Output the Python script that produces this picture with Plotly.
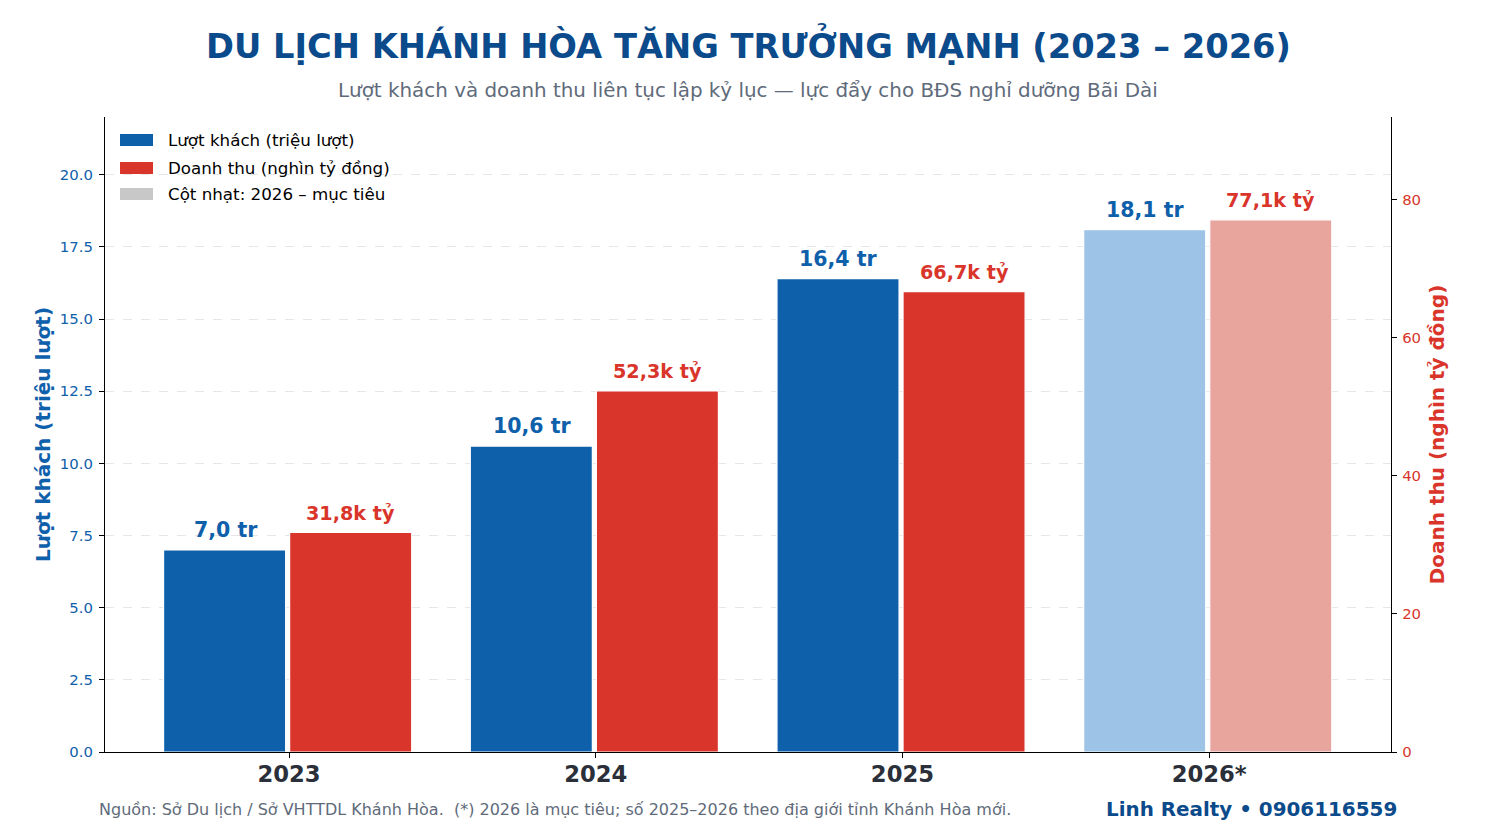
import plotly.graph_objects as go

# ---- data ----
years = ["2023", "2024", "2025", "2026*"]
visitors = [7.0, 10.6, 16.4, 18.1]          # triệu lượt
revenue = [31.8, 52.3, 66.7, 77.1]          # nghìn tỷ đồng
visitor_labels = ["7,0 tr", "10,6 tr", "16,4 tr", "18,1 tr"]
revenue_labels = ["31,8k tỷ", "52,3k tỷ", "66,7k tỷ", "77,1k tỷ"]
left_ticks = [0, 2.5, 5, 7.5, 10, 12.5, 15, 17.5, 20]
right_ticks = [0, 20, 40, 60, 80]
legend_names = ["Lượt khách (triệu lượt)", "Doanh thu (nghìn tỷ đồng)", "Cột nhạt: 2026 – mục tiêu"]

BLUE = "#0F60AB"
RED = "#D9352B"
BLUE_L = "#9DC3E6"
RED_L = "#E8A59E"
GRAY = "#C8C8C8"
TITLE_C = "#0B4A8B"
SUB_C = "#5F6B7A"
FONT = "DejaVu Sans"

W, H = 1496, 836
ML, MR, MT, MB = 105, 105, 117, 84
PW, PH = W - ML - MR, H - MT - MB

def px(x):
    return (x - ML) / PW

def py(y):
    return (H - MB - y) / PH

xs = list(range(len(years)))
blue_cols = [BLUE if not y.endswith("*") else BLUE_L for y in years]
red_cols = [RED if not y.endswith("*") else RED_L for y in years]

fig = go.Figure()
fig.add_trace(go.Bar(x=xs, y=visitors, width=0.398, offset=-0.409,
                     marker=dict(color=blue_cols, line=dict(color="white", width=1.2)),
                     yaxis="y", showlegend=False, hoverinfo="skip"))
fig.add_trace(go.Bar(x=xs, y=revenue, width=0.398, offset=0.002,
                     marker=dict(color=red_cols, line=dict(color="white", width=1.2)),
                     yaxis="y2", showlegend=False, hoverinfo="skip"))

annotations = []
for i, x in enumerate(xs):
    annotations.append(dict(x=x - 0.207, y=visitors[i], xref="x", yref="y", text=f"<b>{visitor_labels[i]}</b>",
                            showarrow=False, yanchor="bottom", yshift=6,
                            font=dict(family=FONT, size=20.5, color=BLUE)))
    annotations.append(dict(x=x + 0.201, y=revenue[i], xref="x", yref="y2", text=f"<b>{revenue_labels[i]}</b>",
                            showarrow=False, yanchor="bottom", yshift=6,
                            font=dict(family=FONT, size=19.2, color=RED)))

# title / subtitle / footer
annotations.append(dict(x=0.5, y=py(45), xref="paper", yref="paper", text="<b>DU LỊCH KHÁNH HÒA TĂNG TRƯỞNG MẠNH (2023 – 2026)</b>",
                        showarrow=False, xanchor="center", yanchor="middle",
                        font=dict(family=FONT, size=33.7, color=TITLE_C)))
annotations.append(dict(x=0.5, y=py(90), xref="paper", yref="paper",
                        text="Lượt khách và doanh thu liên tục lập kỷ lục — lực đẩy cho BĐS nghỉ dưỡng Bãi Dài",
                        showarrow=False, xanchor="center", yanchor="middle",
                        font=dict(family=FONT, size=19.9, color=SUB_C)))
annotations.append(dict(x=px(97), y=py(809), xref="paper", yref="paper",
                        text="Nguồn: Sở Du lịch / Sở VHTTDL Khánh Hòa.  (*) 2026 là mục tiêu; số 2025–2026 theo địa giới tỉnh Khánh Hòa mới.",
                        showarrow=False, xanchor="left", yanchor="middle",
                        font=dict(family=FONT, size=16, color=SUB_C)))
annotations.append(dict(x=px(1399), y=py(809), xref="paper", yref="paper",
                        text="<b>Linh Realty • 0906116559</b>",
                        showarrow=False, xanchor="right", yanchor="middle",
                        font=dict(family=FONT, size=19.9, color=TITLE_C)))

# manual legend
shapes = []
leg_cols = [BLUE, RED, GRAY]
leg_y = [140, 168, 194]
for c, yy, name in zip(leg_cols, leg_y, legend_names):
    shapes.append(dict(type="rect", xref="paper", yref="paper",
                       x0=px(120), x1=px(153), y0=py(yy + 6), y1=py(yy - 6),
                       fillcolor=c, line=dict(width=0)))
    annotations.append(dict(x=px(166), y=py(yy), xref="paper", yref="paper", text=name,
                            showarrow=False, xanchor="left", yanchor="middle",
                            font=dict(family=FONT, size=16.7, color="#000000")))

fig.update_layout(
    width=W, height=H,
    margin=dict(l=ML, r=MR, t=MT, b=MB),
    paper_bgcolor="white", plot_bgcolor="white",
    barmode="overlay",
    showlegend=False,
    font=dict(family=FONT),
    xaxis=dict(range=[-0.6, 3.593], tickmode="array", tickvals=xs,
               ticktext=[f"<b>{y}</b>" for y in years],
               tickfont=dict(family=FONT, size=22.7, color="#2A2F3A"),
               showline=True, linecolor="black", linewidth=1.3,
               ticks="outside", ticklen=5, tickcolor="black",
               ticklabelstandoff=-3,
               showgrid=False, zeroline=False),
    yaxis=dict(range=[0, 22], tickmode="array", tickvals=left_ticks,
               tickformat=".1f",
               tickfont=dict(family=FONT, size=14.9, color=BLUE),
               title=dict(text="<b>Lượt khách (triệu lượt)</b>", font=dict(family=FONT, size=20, color=BLUE), standoff=3),
               showline=True, linecolor="black", linewidth=1.3,
               ticks="outside", ticklen=5, tickcolor="black",
               ticklabelstandoff=3,
               showgrid=True, gridcolor="#E6E6E6", griddash="dash", gridwidth=1,
               zeroline=False),
    yaxis2=dict(range=[0, 92], overlaying="y", side="right", tickmode="array", tickvals=right_ticks,
                tickfont=dict(family=FONT, size=14.9, color=RED),
                title=dict(text="<b>Doanh thu (nghìn tỷ đồng)</b>", font=dict(family=FONT, size=20, color=RED), standoff=9),
                showline=True, linecolor="black", linewidth=1.3,
                ticks="outside", ticklen=5, tickcolor="black",
                ticklabelstandoff=2,
                showgrid=False, zeroline=False),
    annotations=annotations,
    shapes=shapes,
)

fig.write_html("out.html")
